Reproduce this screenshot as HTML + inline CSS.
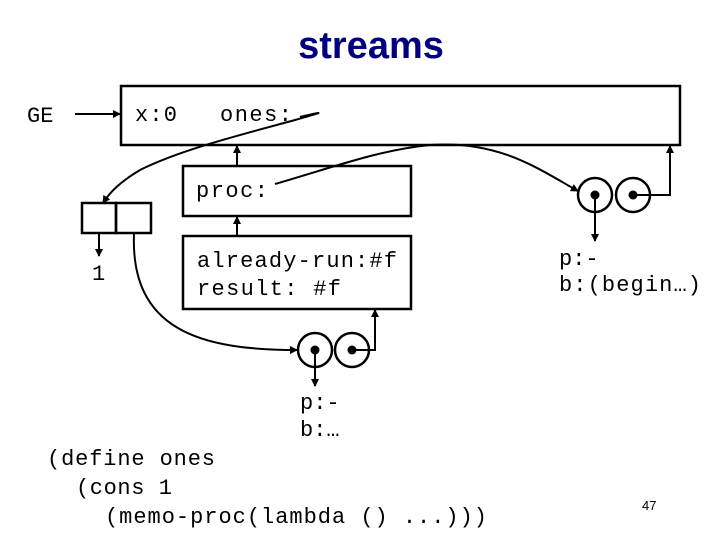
<!DOCTYPE html>
<html><head><style>body{margin:0;background:#fff}svg{display:block}</style></head><body>
<svg width="720" height="540" viewBox="0 0 720 540" xmlns="http://www.w3.org/2000/svg">
<defs><marker id="a" markerWidth="8" markerHeight="8" refX="7" refY="4" orient="auto" markerUnits="userSpaceOnUse"><path d="M0,0 L8,4 L0,8 z" fill="#000"/></marker></defs>
<text x="371" y="58" font-family="Liberation Sans" font-weight="bold" font-size="38" fill="#000080" text-anchor="middle">streams</text>
<g font-family="Liberation Mono" font-size="22" fill="#000">
<text x="27" y="122">GE</text>
<text x="135" y="121" textLength="42">x:0</text>
<text x="220" y="121" textLength="72">ones:</text>
<text x="196" y="197" textLength="72">proc:</text>
<text x="197" y="267" textLength="200">already-run:#f</text>
<text x="197" y="295" textLength="144">result: #f</text>
<text x="92" y="280">1</text>
<text x="559" y="265">p:-</text>
<text x="559" y="291" textLength="142">b:(begin…)</text>
<text x="300" y="409">p:-</text>
<text x="300" y="436">b:…</text>
<text x="47" y="465" textLength="168">(define ones</text>
<text x="76" y="494" textLength="96">(cons 1</text>
<text x="105" y="523" textLength="382">(memo-proc(lambda () ...)))</text>
</g>
<text x="642" y="510" font-family="Liberation Sans" font-size="13">47</text>
<g fill="none" stroke="#000" stroke-width="2.5">
<rect x="121" y="86" width="559" height="59"/>
<rect x="183" y="166" width="228" height="50"/>
<rect x="183" y="236" width="228" height="73"/>
<rect x="82" y="203" width="34" height="30"/>
<rect x="116" y="203" width="35" height="30"/>
<circle cx="315" cy="350" r="17"/><circle cx="352" cy="350" r="17"/>
<circle cx="595" cy="195" r="17"/><circle cx="633" cy="195" r="17"/>
</g>
<g fill="#000"><circle cx="315" cy="350" r="4.5"/><circle cx="352" cy="350" r="4.5"/><circle cx="595" cy="195" r="4.5"/><circle cx="633" cy="195" r="4.5"/></g>
<g fill="none" stroke="#000" stroke-width="2" marker-end="url(#a)">
<line x1="75" y1="114" x2="120" y2="114"/>
<path d="M300,117 C330,110 320,113 295,120 C240,135 180,150 140,170 C120,182 110,192 103,203"/>
<path d="M275,184 C340,165 380,150 430,145 C500,140 540,170 578,191"/>
<path d="M134,233 C130,330 200,350 297,350"/>
<line x1="237" y1="166" x2="237" y2="146"/>
<line x1="237" y1="236" x2="237" y2="217"/>
<polyline points="352,350 375,350 375,310"/>
<polyline points="633,195 670,195 670,146"/>
<line x1="99" y1="233" x2="99" y2="256"/>
<line x1="315" y1="350" x2="315" y2="386"/>
<line x1="595" y1="195" x2="595" y2="241"/>
</g>
</svg>
</body></html>
